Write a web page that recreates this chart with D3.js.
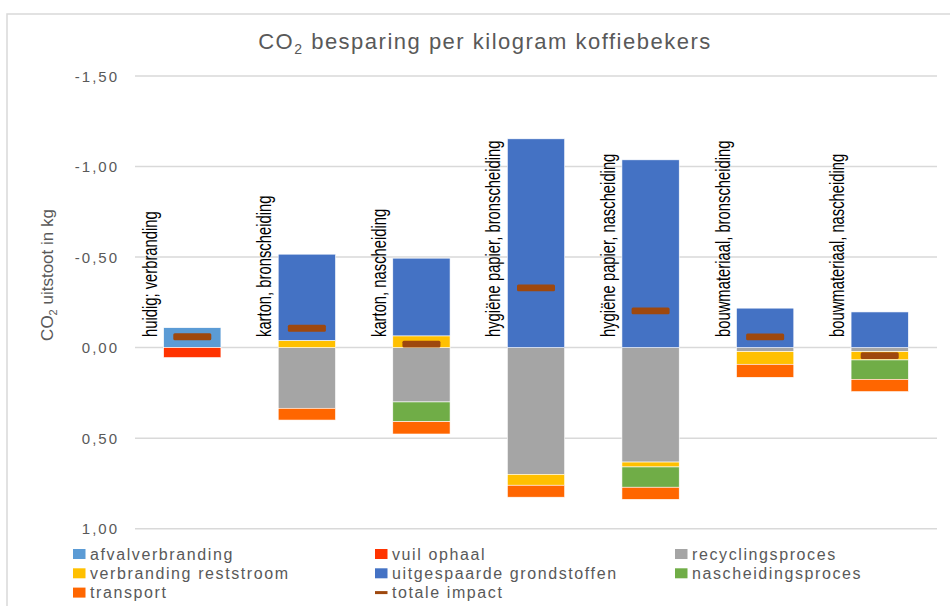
<!DOCTYPE html>
<html><head><meta charset="utf-8">
<script src="https://cdn.jsdelivr.net/npm/d3@7"></script>
<style>body{margin:0;background:#fff}svg{display:block}</style>
</head><body><svg id="c" width="950" height="606"></svg>
<script>
const categories = ["huidig; verbranding","karton, bronscheiding","karton, nascheiding","hygiëne papier, bronscheiding","hygiëne papier, nascheiding","bouwmateriaal, bronscheiding","bouwmateriaal, nascheiding"];
const seriesNames = ["afvalverbranding","vuil ophaal","recyclingsproces","verbranding reststroom","uitgespaarde grondstoffen","nascheidingsproces","transport"];
const lineName = "totale impact";
const afvalverbranding      = [-0.11, 0, 0, 0, 0, 0, 0];
const vuilOphaal            = [0.055, 0, 0, 0, 0, 0, 0];
const recyclingsproces      = [0, 0.335, 0.30, 0.70, 0.632, 0.022, 0.022];
const verbrandingReststroom = [0, -0.04, -0.065, 0.06, 0.027, 0.07, 0.046];
const uitgespaardeGrondst   = [0, -0.476, -0.429, -1.153, -1.037, -0.218, -0.197];
const nascheidingsproces    = [0, 0, 0.109, 0, 0.112, 0, 0.107];
const transport             = [0, 0.065, 0.068, 0.066, 0.067, 0.072, 0.068];
const totaleImpact          = [-0.06, -0.107, -0.019, -0.33, -0.203, -0.059, 0.044];
const yTicks = [-1.5, -1.0, -0.5, 0, 0.5, 1.0];
const yTickLabels = ["-1,50","-1,00","-0,50","0,00","0,50","1,00"];

const seriesValues = [afvalverbranding, vuilOphaal, recyclingsproces, verbrandingReststroom, uitgespaardeGrondst, nascheidingsproces, transport];
const colors = ["#5B9BD5","#FF3300","#A5A5A5","#FFC000","#4472C4","#70AD47","#FF6600"];
const lineColor = "#9E480E";

const svg = d3.select("#c");
const FONT = "'Liberation Sans', Arial, sans-serif";
const grey = "#595959";

// chart border
svg.append("rect").attr("x",7).attr("y",14).attr("width",1000).attr("height",700)
  .attr("fill","none").attr("stroke","#D9D9D9").attr("stroke-width",1.5);

const x = d3.scaleBand().domain(categories).range([135, 937]).paddingInner(0.5).paddingOuter(0.25);
const y = d3.scaleLinear().domain([-1.5, 1.0]).range([76, 528.7]);

// gridlines
svg.append("g").selectAll("line").data(yTicks).join("line")
  .attr("x1",135).attr("x2",937).attr("y1",d=>y(d)).attr("y2",d=>y(d))
  .attr("stroke","#D9D9D9").attr("stroke-width",1.5);

// y tick labels
svg.append("g").selectAll("text").data(yTicks).join("text")
  .attr("x",119).attr("y",d=>y(d)+5.5).attr("text-anchor","end")
  .attr("font-family",FONT).attr("font-size",15).attr("letter-spacing",2).attr("fill",grey)
  .text((d,i)=>yTickLabels[i]);

// stacked data
const rows = categories.map((c,j)=>{ const o={cat:c}; seriesNames.forEach((s,i)=>o[s]=seriesValues[i][j]); return o; });
const stacked = d3.stack().keys(seriesNames).offset(d3.stackOffsetDiverging)(rows);

const gBars = svg.append("g");
stacked.forEach((ser,i)=>{
  gBars.append("g").attr("fill",colors[i]).selectAll("rect")
    .data(ser.filter(d=>d[1]!==d[0])).join("rect")
    .attr("x",d=>x(d.data.cat)).attr("width",x.bandwidth())
    .attr("y",d=>Math.min(y(d[0]),y(d[1]))).attr("height",d=>Math.abs(y(d[1])-y(d[0])))
    .attr("stroke","#fff").attr("stroke-width",0.6);
});

// total impact markers (dash)
svg.append("g").selectAll("rect").data(totaleImpact).join("rect")
  .attr("x",(d,i)=>x(categories[i])+x.bandwidth()/2-19).attr("width",38)
  .attr("y",d=>y(d)-3.4).attr("height",6.8).attr("rx",1.5)
  .attr("fill",lineColor);

// category labels
svg.append("g").selectAll("text").data(categories).join("text")
  .attr("transform",d=>`translate(${x(d)-7},337) rotate(-90) scale(0.74,1)`)
  .attr("font-family",FONT).attr("font-size",20).attr("fill","#000")
  .text(d=>d);

// title
const title = svg.append("text").attr("x",485).attr("y",49).attr("text-anchor","middle")
  .attr("font-family",FONT).attr("font-size",22).attr("letter-spacing",1.5).attr("fill",grey);
title.append("tspan").text("CO");
title.append("tspan").attr("font-size",14).attr("dy",5).text("2");
title.append("tspan").attr("dy",-5).text(" besparing per kilogram koffiebekers");

// y axis title
const yt = svg.append("text").attr("transform","translate(53,275) rotate(-90)").attr("text-anchor","middle")
  .attr("font-family",FONT).attr("font-size",17).attr("fill",grey);
yt.append("tspan").text("CO");
yt.append("tspan").attr("font-size",11).attr("dy",4).text("2");
yt.append("tspan").attr("dy",-4).text(" uitstoot in kg");

// legend
const legendItems = seriesNames.map((n,i)=>({name:n,color:colors[i],type:"rect"})).concat([{name:lineName,color:lineColor,type:"line"}]);
const colX = [73, 375, 675];
const lg = svg.append("g").selectAll("g").data(legendItems).join("g")
  .attr("transform",(d,i)=>`translate(${colX[i%3]},${554+Math.floor(i/3)*19.3})`);
lg.filter(d=>d.type==="rect").append("rect").attr("x",0).attr("y",-5).attr("width",12.5).attr("height",10).attr("fill",d=>d.color);
lg.filter(d=>d.type==="line").append("line").attr("x1",0).attr("x2",12.5).attr("y1",0).attr("y2",0).attr("stroke",d=>d.color).attr("stroke-width",3);
lg.append("text").attr("x",17).attr("y",5.5).attr("font-family",FONT).attr("font-size",16)
  .attr("letter-spacing",1.6).attr("fill",grey).text(d=>d.name);
</script></body></html>
